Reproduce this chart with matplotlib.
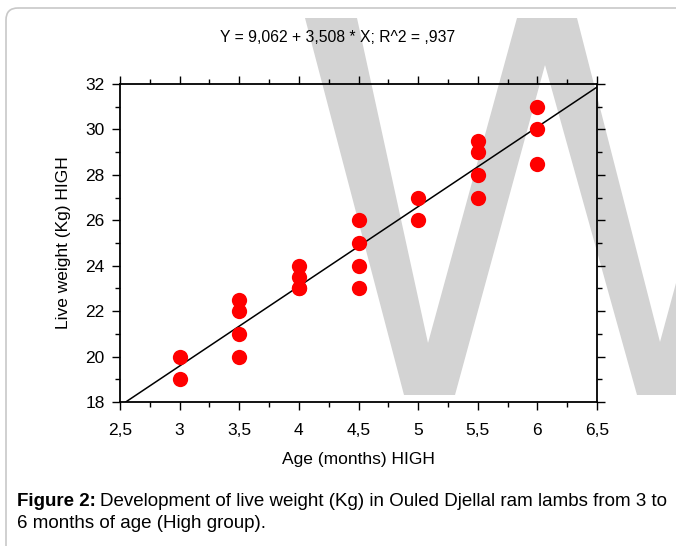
# scatter of live weight vs age with fitted regression line
import matplotlib.pyplot as plt
import numpy as np
from matplotlib.patches import Polygon, FancyBboxPatch
from matplotlib.ticker import MultipleLocator, FuncFormatter
import matplotlib.transforms as mtransforms

plt.rcParams['font.family'] = ['Liberation Sans', 'DejaVu Sans']

# data
age = [3, 3,
       3.5, 3.5, 3.5, 3.5,
       4, 4, 4, 4,
       4.5, 4.5, 4.5, 4.5,
       5, 5,
       5.5, 5.5, 5.5, 5.5,
       6, 6, 6]
weight = [20, 19,
          22.5, 22, 21, 20,
          24, 23.5, 23, 23,
          26, 25, 24, 23,
          27, 26,
          29.5, 29, 28, 27,
          31, 30, 28.5]
intercept = 9.062
slope = 3.508
r2 = 0.937

W, H = 676, 546
fig = plt.figure(figsize=(W / 100, H / 100), dpi=100)
fig.patch.set_facecolor('white')

# pixel coordinates, origin top-left
px = mtransforms.Affine2D().scale(1 / W, -1 / H).translate(0, 1) + fig.transFigure

# rounded border of the figure box
box = FancyBboxPatch((6, 8), 700, 560, boxstyle='round,pad=0,rounding_size=12',
                     transform=px, facecolor='none', edgecolor='#c8c8c8',
                     linewidth=1.2, zorder=-3)
fig.patches.append(box)

# watermark letter
wm = Polygon([(305, 18), (357, 18), (428, 343), (517, 18), (577, 18),
              (660, 342), (748, 18), (800, 18), (688, 395), (637, 395),
              (545, 65), (455, 395), (404, 395)],
             closed=True, transform=px, facecolor='#d3d3d3',
             edgecolor='none', zorder=-2)
fig.patches.append(wm)

ax = fig.add_axes([120 / W, 1 - 402 / H, (597 - 120) / W, (402 - 84) / H])
ax.set_facecolor('none')

xfit = np.array([2.5, 6.5])
ax.plot(xfit, intercept + slope * xfit, color='black', lw=1.1, zorder=2)
ax.plot(age, weight, 'o', color='#ff0000', markersize=11, markeredgewidth=0, zorder=3)

ax.set_xlim(2.5, 6.5)
ax.set_ylim(18, 32)
ax.xaxis.set_major_locator(MultipleLocator(0.5))
ax.xaxis.set_minor_locator(MultipleLocator(0.25))
ax.yaxis.set_major_locator(MultipleLocator(2))
ax.yaxis.set_minor_locator(MultipleLocator(1))
ax.xaxis.set_major_formatter(FuncFormatter(lambda v, p: f'{v:g}'.replace('.', ',')))

ax.tick_params(which='both', direction='out', top=True, right=True,
               labelsize=12.5, width=1.0, color='black')
ax.tick_params(which='major', length=6)
ax.tick_params(which='minor', length=3.5)
ax.tick_params(axis='x', pad=9)
ax.tick_params(axis='y', pad=5)
for s in ax.spines.values():
    s.set_linewidth(1.3)

ax.set_xlabel('Age (months) HIGH', fontsize=12.5, labelpad=10)
ax.set_ylabel('Live weight (Kg) HIGH', fontsize=12.5, labelpad=10)

fig.text(338 / W, 1 - 38 / H,
         f'Y = {intercept:.3f} + {slope:.3f} * X; R^2 = {r2:.3f}'.replace('0.', '.').replace('.', ','),
         ha='center', va='center', fontsize=11.3)

# caption
t1 = fig.text(17 / W, 1 - 502 / H, 'Figure 2:', fontweight='bold', fontsize=13.5, va='center')
fig.canvas.draw()
bb = t1.get_window_extent()
fig.text((bb.x1 + 4) / W, 1 - 502 / H,
         'Development of live weight (Kg) in Ouled Djellal ram lambs from 3 to',
         fontsize=13.5, va='center')
fig.text(17 / W, 1 - 523 / H, '6 months of age (High group).', fontsize=13.5, va='center')

fig.savefig('out.png', dpi=100)
